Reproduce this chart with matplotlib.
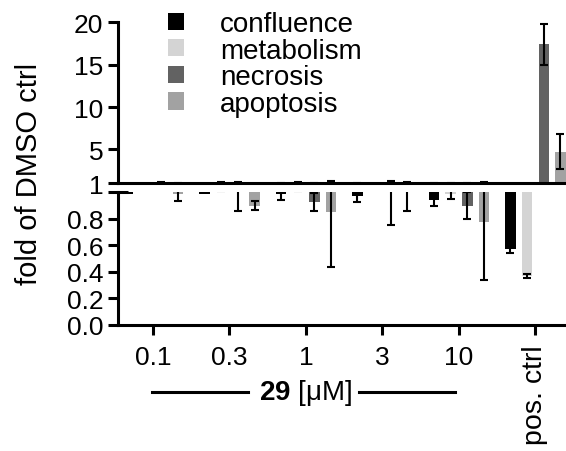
import matplotlib
matplotlib.use("Agg")
import matplotlib.pyplot as plt
import numpy as np
from matplotlib.patches import Patch

plt.rcParams['font.family'] = ['Liberation Sans', 'DejaVu Sans']
plt.rcParams['mathtext.fontset'] = 'custom'
plt.rcParams['mathtext.rm'] = 'Liberation Sans'
plt.rcParams['mathtext.bf'] = 'Liberation Sans:bold'

# ---- data ----
concentrations = ["0.1", "0.3", "1", "3", "10", "pos. ctrl"]
series_names = ["confluence", "metabolism", "necrosis", "apoptosis"]
confluence = [0.985, 0.985, 0.99, 0.975, 0.94, 0.573]
confluence_err = [0.0, 0.0, 0.05, 0.045, 0.04, 0.035]
metabolism = [1.0, 1.06, 1.06, 1.0, 0.99, 0.365]
metabolism_err = [0.0, 0.05, 0.05, 0.0, 0.04, 0.015]
necrosis = [1.09, 1.0, 0.927, 1.02, 0.90, 17.4]
necrosis_err = [0.07, 0.145, 0.07, 0.265, 0.10, 2.45]
apoptosis = [0.99, 0.90, 0.85, 1.03, 0.775, 4.75]
apoptosis_err = [0.056, 0.035, 0.415, 0.17, 0.435, 2.05]
colors = ["#000000", "#d4d4d4", "#626262", "#a2a2a2"]
top_ticks = [1, 5, 10, 15, 20]
bottom_ticks = [0.0, 0.2, 0.4, 0.6, 0.8]
baseline = 1.0

values = [confluence, metabolism, necrosis, apoptosis]
errors = [confluence_err, metabolism_err, necrosis_err, apoptosis_err]

W, H = 566, 452
fig = plt.figure(figsize=(W / 100, H / 100), dpi=100)

left = 118 / W
right = 1.0
ax_top = fig.add_axes([left, 1 - 184.3 / H, right - left, (184.3 - 23.3) / H])
ax_bot = fig.add_axes([left, 1 - 325.7 / H, right - left, (325.7 - 193.3) / H])

x = np.arange(len(concentrations))
offsets = [-0.327, -0.109, 0.109, 0.327]
bw = 0.137
lw_axis = 2.2

for ax in (ax_top, ax_bot):
    for i, (vals, errs, c) in enumerate(zip(values, errors, colors)):
        v = np.array(vals)
        e = np.array(errs)
        ax.bar(x + offsets[i], v - baseline, bottom=baseline, width=bw,
               color=c, edgecolor='none', zorder=2)
        m = e > 0
        ax.errorbar((x + offsets[i])[m], v[m], yerr=e[m], fmt='none', ecolor='black',
                    elinewidth=1.5, capsize=2.6, capthick=1.5, zorder=3)
    ax.set_xlim(-0.4575, 5.399)
    for s in ('top', 'right'):
        ax.spines[s].set_visible(False)
    for s in ('left', 'bottom'):
        ax.spines[s].set_linewidth(lw_axis)
    ax.tick_params(axis='y', width=lw_axis, length=7.5, labelsize=19, pad=3)

ax_top.set_ylim(1, 20)
ax_top.set_yticks(top_ticks)
ax_top.set_yticklabels([str(t) for t in top_ticks])
ax_top.set_xticks([])

ax_bot.set_ylim(0, 1.0)
ax_bot.set_yticks(bottom_ticks)
ax_bot.set_yticklabels([f"{t:.1f}" for t in bottom_ticks])
ax_bot.set_xticks(x)
ax_bot.set_xticklabels(concentrations)
ax_bot.tick_params(axis='x', width=lw_axis, length=7.5, labelsize=19, pad=7)
for lab in ax_bot.get_xticklabels():
    if lab.get_text() == "pos. ctrl":
        lab.set_rotation(90)
        lab.set_va('top')
        lab.set_fontsize(20.5)

# break cap on bottom y-axis
ax_bot.plot([-10 / (W - 118), 10 / (W - 118)], [1, 1], transform=ax_bot.transAxes,
            color='black', lw=lw_axis, clip_on=False, solid_capstyle='butt')

# concentration bracket
trans = matplotlib.transforms.blended_transform_factory(ax_bot.transData, fig.transFigure)
yb = 1 - 393 / H
ax_bot.plot([-0.01, 1.24], [yb, yb], transform=trans, color='black', lw=2.2, clip_on=False)
ax_bot.plot([2.69, 3.95], [yb, yb], transform=trans, color='black', lw=2.2, clip_on=False)
ax_bot.text(1.99, yb, r"$\mathbf{29}$ [μM]", transform=trans, ha='center', va='center',
            fontsize=20)

# y label
fig.text(29 / W, 1 - 174 / H, "fold of DMSO ctrl", rotation=90, ha='center', va='center',
         fontsize=21)

# legend
handles = [Patch(facecolor=c, edgecolor='none') for c in colors]
fig.legend(handles, series_names, loc='upper left', bbox_to_anchor=(168 / W, 1 - 12 / H),
           frameon=False, fontsize=20, handlelength=0.58, handleheight=0.58,
           handletextpad=1.3, labelspacing=0.02, borderpad=0, borderaxespad=0)

fig.savefig("out.png", dpi=100)
